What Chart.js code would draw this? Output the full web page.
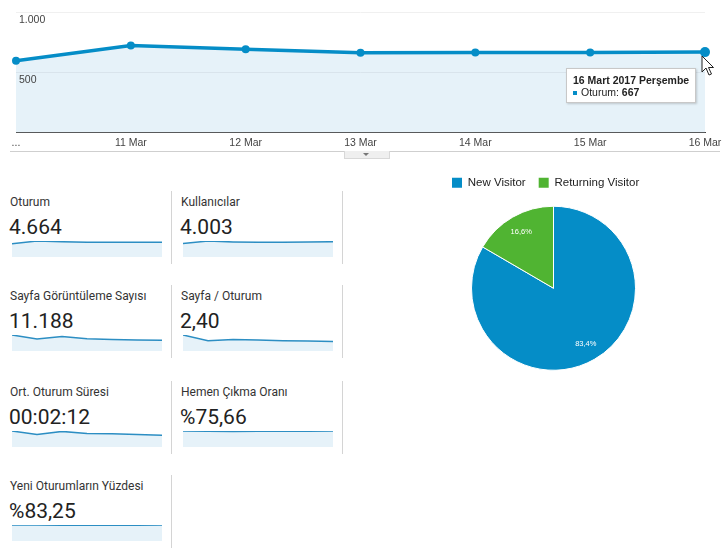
<!DOCTYPE html>
<html>
<head>
<meta charset="utf-8">
<script src="https://cdn.jsdelivr.net/npm/chart.js@4/dist/chart.umd.min.js"></script>
<style>
  html, body { margin: 0; padding: 0; background: #fff; }
  #wrap { position: relative; width: 726px; height: 551px; overflow: hidden; background: #fff; }
  .abs { position: absolute; }
  .mtitle { font-family: Roboto, 'Liberation Sans', sans-serif; font-size: 12px; line-height: 14px; color: #333; white-space: nowrap; }
  .mvalue { font-family: Roboto, 'Liberation Sans', sans-serif; font-size: 21px; line-height: 25px; color: #222; white-space: nowrap; }
  .sep { position: absolute; width: 1px; background: #d4d4d4; }
  #tip { position: absolute; left: 566px; top: 68px; width: 128px; height: 33px; background: #fff; border: 1px solid #c8c8c8; box-shadow: 1px 1px 2px rgba(0,0,0,0.18); font-family: 'Liberation Sans', Arial, sans-serif; font-size: 10.5px; color: #222; }
  #tip .t1 { position: absolute; left: 6px; top: 5px; font-weight: bold; white-space: nowrap; }
  #tip .t2 { position: absolute; left: 14px; top: 17px; white-space: nowrap; }
  #tip .sq { position: absolute; left: 6px; top: 22px; width: 4px; height: 4px; background: #058dc7; }
</style>
</head>
<body>
<div id="wrap">
  <canvas id="main" class="abs" style="left:0;top:0;width:726px;height:153px" width="726" height="153"></canvas>
  <div class="abs" style="left:10px;top:151px;width:710px;height:1px;background:#cfcfcf"></div>
  <div class="abs" style="left:344px;top:151px;width:44px;height:7px;background:#efefef;border:1px solid #d8d8d8;border-top:none"></div>
  <div class="abs" style="left:363px;top:153px;width:0;height:0;border-left:3px solid transparent;border-right:3px solid transparent;border-top:3px solid #777"></div>
  <div id="tip"><div class="t1" id="tipTitle"></div><div class="sq"></div><div class="t2" id="tipBody"></div></div>
  <svg class="abs" style="left:701px;top:55px" width="14" height="22" viewBox="0 0 14 22">
    <path d="M1 1 L1 17 L5 13 L8 20 L10.5 19 L7.5 12.5 L12.5 12.5 Z" fill="#fff" stroke="#222" stroke-width="1"/>
  </svg>
  <div id="tiles"></div>
  <canvas id="pie" class="abs" style="left:439px;top:164px;width:229px;height:214px" width="229" height="214"></canvas>
</div>
<script>
// ---- data ----
const dateLabels = ['...', '11 Mar', '12 Mar', '13 Mar', '14 Mar', '15 Mar', '16 Mar'];
const sessions = [595, 722, 690, 662, 664, 664, 667];
const yTickValues = [0, 500, 1000];
const yTickLabels = ['', '500', '1.000'];
const tooltipTitle = '16 Mart 2017 Perşembe';
const tooltipSeries = 'Oturum';

const metricTitles = ['Oturum', 'Kullanıcılar', 'Sayfa Görüntüleme Sayısı', 'Sayfa / Oturum', 'Ort. Oturum Süresi', 'Hemen Çıkma Oranı', 'Yeni Oturumların Yüzdesi'];
const metricValues = ['4.664', '4.003', '11.188', '2,40', '00:02:12', '%75,66', '%83,25'];
const sparkSessions = [595, 722, 690, 662, 664, 664, 667];
const sparkUsers = [515, 615, 580, 565, 565, 575, 588];
const sparkPageviews = [2030, 1530, 1850, 1560, 1460, 1400, 1358];
const sparkPagesPerSession = [3.41, 2.20, 2.43, 2.32, 2.20, 2.11, 2.05];
const sparkAvgDuration = [155, 121, 151, 131, 128, 121, 115];
const sparkBounceRate = [76.5, 75.2, 74.6, 75.0, 75.6, 76.0, 76.8];
const sparkNewSessions = [84.0, 83.5, 82.8, 83.1, 83.0, 83.2, 83.6];

const visitorTypes = ['New Visitor', 'Returning Visitor'];
const visitorShares = [83.4, 16.6];

// ---- styles ----
const BLUE = '#058dc7';
const FILL = '#e6f2f9';
const ARIAL = "'Liberation Sans', Arial, sans-serif";

// ---- main line chart ----
const lastIdx = sessions.length - 1;
new Chart(document.getElementById('main'), {
  type: 'line',
  data: {
    labels: dateLabels,
    datasets: [{
      data: sessions,
      borderColor: BLUE,
      backgroundColor: FILL,
      borderWidth: 3.5,
      fill: 'origin',
      tension: 0,
      pointBackgroundColor: BLUE,
      pointBorderColor: BLUE,
      pointBorderWidth: 0,
      pointRadius: (c) => c.dataIndex === lastIdx ? 5 : 4
    }]
  },
  options: {
    responsive: false,
    animation: false,
    layout: { padding: { left: 16, right: 21, top: 12, bottom: 0 } },
    plugins: { legend: { display: false }, tooltip: { enabled: false } },
    scales: {
      x: {
        grid: { display: true, color: 'rgba(0,0,0,0)', drawTicks: false },
        border: { display: true, color: '#444', width: 1 },
        ticks: { color: '#444', font: { family: ARIAL, size: 10.5 }, padding: 4, maxRotation: 0, autoSkip: false }
      },
      y: {
        min: 0, max: 1000,
        afterBuildTicks: (s) => { s.ticks = yTickValues.map(v => ({ value: v })); },
        afterFit: (s) => { s.width = 0; },
        grid: {
          z: 1,
          drawTicks: false,
          color: (c) => c.tick && c.tick.value === 1000 ? '#f0f0f0' : (c.tick && c.tick.value === 500 ? '#d9e4ec' : 'rgba(0,0,0,0)')
        },
        border: { display: false },
        ticks: {
          z: 1,
          autoSkip: false,
          mirror: true, padding: 3, labelOffset: 8, color: '#444',
          font: { family: ARIAL, size: 10.5 },
          callback: (v) => yTickLabels[yTickValues.indexOf(v)]
        }
      }
    }
  }
});

document.getElementById('tipTitle').textContent = tooltipTitle;
document.getElementById('tipBody').innerHTML = tooltipSeries + ': <b>' + sessions[lastIdx] + '</b>';

// ---- metric tiles ----
const sparkSeries = [sparkSessions, sparkUsers, sparkPageviews, sparkPagesPerSession, sparkAvgDuration, sparkBounceRate, sparkNewSessions];
const rowShift = [0, 94, 189.5, 284];
const colX = [10, 181];
const tiles = document.getElementById('tiles');
metricTitles.forEach((title, i) => {
  const r = Math.floor(i / 2), c = i % 2;
  const s = rowShift[r], x = colX[c];
  const t = document.createElement('div');
  t.className = 'abs mtitle'; t.style.left = x + 'px'; t.style.top = (195 + s) + 'px';
  t.textContent = title; tiles.appendChild(t);
  const v = document.createElement('div');
  v.className = 'abs mvalue'; v.style.left = (x - 1) + 'px'; v.style.top = (215 + s) + 'px';
  v.textContent = metricValues[i]; tiles.appendChild(v);
  const cv = document.createElement('canvas');
  cv.className = 'abs'; cv.width = 150; cv.height = 17;
  cv.style.left = (x + 2) + 'px'; cv.style.top = (240 + s) + 'px';
  cv.style.width = '150px'; cv.style.height = '17px';
  tiles.appendChild(cv);
  const data = sparkSeries[i];
  new Chart(cv, {
    type: 'line',
    data: { labels: dateLabels, datasets: [{ data: data, borderColor: '#2c8ec3', backgroundColor: FILL, borderWidth: 1.5, fill: 'origin', pointRadius: 0, tension: 0 }] },
    options: {
      responsive: false, animation: false,
      layout: { padding: { top: 1, bottom: 0, left: 0, right: 0 } },
      plugins: { legend: { display: false }, tooltip: { enabled: false } },
      scales: { x: { display: false }, y: { display: false, min: 0, max: Math.max(...data) } }
    }
  });
});
// separators
[[171, 0], [171, 1], [171, 2], [171, 3], [342, 0], [342, 1], [342, 2]].forEach(([x, r]) => {
  const d = document.createElement('div');
  d.className = 'sep'; d.style.left = x + 'px'; d.style.top = (191 + rowShift[r]) + 'px'; d.style.height = '73px';
  tiles.appendChild(d);
});

// ---- pie ----
const pieLabelPlugin = {
  id: 'pieLabels',
  afterDatasetsDraw(chart) {
    const ctx = chart.ctx;
    const meta = chart.getDatasetMeta(0);
    ctx.save();
    ctx.fillStyle = '#fff';
    ctx.font = '7.5px ' + ARIAL;
    ctx.textAlign = 'center';
    ctx.textBaseline = 'middle';
    meta.data.forEach((arc, i) => {
      const p = arc.getProps(['x', 'y', 'startAngle', 'endAngle', 'outerRadius'], true);
      const mid = (p.startAngle + p.endAngle) / 2;
      const rr = p.outerRadius * 0.79;
      const txt = visitorShares[i].toFixed(1).replace('.', ',') + '%';
      ctx.fillText(txt, p.x + Math.cos(mid) * rr, p.y + Math.sin(mid) * rr);
    });
    ctx.restore();
  }
};
new Chart(document.getElementById('pie'), {
  type: 'pie',
  data: {
    labels: visitorTypes,
    datasets: [{ data: visitorShares, backgroundColor: [BLUE, '#50b432'], borderColor: '#fff', borderWidth: 1 }]
  },
  options: {
    responsive: false, animation: false,
    radius: 82,
    layout: { padding: 0 },
    plugins: {
      tooltip: { enabled: false },
      legend: {
        position: 'top', align: 'start',
        labels: {
          boxWidth: 10, boxHeight: 10, padding: 13, color: '#222',
          font: { family: ARIAL, size: 11.5 },
          generateLabels: (chart) => Chart.overrides.pie.plugins.legend.labels.generateLabels(chart).map(l => Object.assign(l, { lineWidth: 0, strokeStyle: l.fillStyle }))
        }
      }
    }
  },
  plugins: [pieLabelPlugin]
});
</script>
</body>
</html>
